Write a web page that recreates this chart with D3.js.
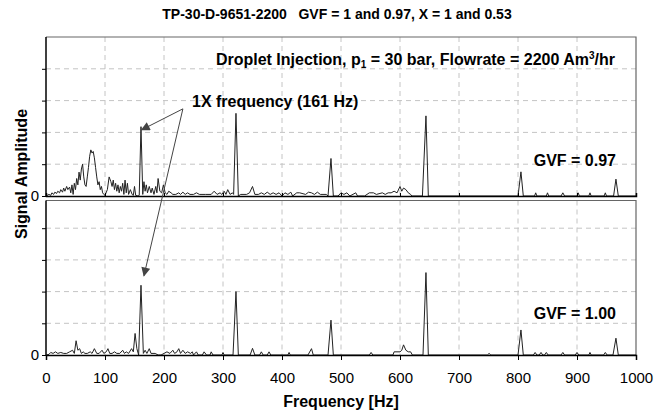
<!DOCTYPE html>
<html>
<head>
<meta charset="utf-8">
<script src="https://cdn.jsdelivr.net/npm/d3@7/dist/d3.min.js"></script>
<style>
body { margin: 0; background: #fff; }
svg { display: block; font-family: "Liberation Sans", Arial, sans-serif; }
</style>
</head>
<body>
<div id="chart"></div>
<script>
// frequency axis ticks (Hz) and amplitude grid steps
var freqTicks = [0, 100, 200, 300, 400, 500, 600, 700, 800, 900, 1000];
var ampTicks = [0, 1, 2, 3, 4, 5];

// GVF = 0.97 spectrum, [Hz, amplitude]
var gvf097 = [
    [0,0],[5,0.05],[8,0.02],[10,0.1],[13,0.05],[15,0.12],[18,0.08],[20,0.15],[23,0.1],[25,0.2],
    [28,0.12],[30,0.25],[32,0.15],[35,0.3],[37,0.2],[40,0.28],[42,0.1],[44,0.35],[46,0.05],[48,0.4],
    [50,0.2],[52,0.55],[54,0.35],[56,0.75],[58,0.5],[60,0.85],[62,1.0],[64,0.6],[66,0.35],[68,0.3],
    [70,0.6],[72,0.9],[74,1.25],[76,1.45],[78,1.35],[80,1.4],[82,1.2],[84,0.9],[86,0.6],[88,0.35],
    [90,0.45],[92,0.2],[94,0.3],[96,0.1],[98,0.05],[100,0.02],[104,0.2],[107,0.6],[110,0.45],[112,0.3],
    [114,0.5],[116,0.2],[118,0.4],[120,0.15],[122,0.35],[124,0.1],[126,0.3],[128,0.15],[130,0.4],[132,0.05],
    [134,0.5],[136,0.1],[138,0.4],[140,0.05],[143,0.2],[146,0.05],[148,0.02],[150,0.3],[152,0.02],[156,0],
    [158,0.02],[161,2.18],[164,0.05],[166,0.45],[168,0.15],[170,0.35],[172,0.1],[175,0.3],[178,0.1],[180,0.25],
    [183,0.05],[186,0.3],[188,0.1],[190,0.55],[193,0.15],[196,0.1],[199,0.35],[202,0.1],[205,0.05],[208,0.15],
    [212,0.1],[215,0.05],[220,0.05],[225,0.1],[228,0.05],[232,0.12],[236,0.05],[240,0.1],[244,0.05],[250,0.05],
    [255,0.1],[260,0.05],[270,0.05],[280,0.05],[285,0.15],[290,0.05],[295,0.1],[298,0.05],[302,0.15],[305,0.05],
    [308,0.2],[312,0.05],[316,0.1],[318,0.05],[322,2.6],[326,0],[330,0.05],[340,0.05],[345,0.1],[350,0.3],
    [354,0.05],[360,0.05],[365,0.1],[370,0.05],[375,0.12],[380,0.05],[385,0.1],[390,0.05],[395,0.1],[400,0],
    [405,0.1],[410,0.05],[415,0.12],[418,0],[425,0.1],[430,0.1],[440,0.05],[445,0.12],[450,0.1],[455,0.05],
    [460,0.12],[465,0.05],[475,0.05],[478,0],[483,1.18],[487,0],[495,0],[500,0.1],[505,0.05],[510,0.1],
    [515,0],[525,0.1],[528,0],[540,0],[548,0.1],[555,0.1],[560,0.05],[570,0.1],[575,0.05],[580,0.1],
    [585,0.1],[590,0.15],[595,0.1],[600,0.3],[603,0.15],[606,0.25],[610,0.2],[614,0.1],[618,0.05],[620,0],
    [638,0],[644,2.52],[648,0],[800,0],[805,0.76],[809,0],[828,0],[830,0.1],[832,0],[848,0],
    [850,0.1],[852,0],[873,0],[876,0.1],[879,0],[900,0],[902,0.1],[904,0],[920,0],[922,0.1],
    [924,0],[946,0],[948,0.1],[950,0],[962,0],[966,0.53],[970,0],[1000,0]
];

// GVF = 1.00 spectrum, [Hz, amplitude]
var gvf100 = [
    [0,0],[5,0.02],[8,0.08],[12,0.05],[16,0.1],[20,0.05],[25,0.08],[30,0.05],[35,0.05],[40,0.1],
    [45,0.15],[48,0.05],[51,0.45],[54,0.15],[57,0.2],[60,0.05],[63,0.1],[66,0.05],[70,0.05],[75,0.1],
    [78,0.05],[82,0.2],[86,0.05],[90,0.05],[95,0.15],[98,0.05],[102,0.1],[105,0.2],[108,0.05],[112,0.05],
    [116,0.1],[120,0.05],[125,0.05],[130,0.15],[133,0.05],[136,0.1],[140,0.05],[145,0.2],[148,0.1],[151,0.68],
    [154,0.2],[157,0],[161,2.2],[165,0.05],[168,0.15],[171,0.05],[175,0.2],[178,0.05],[185,0.05],[190,0],
    [195,0],[200,0.05],[205,0.1],[210,0.05],[215,0.15],[218,0.05],[222,0.1],[225,0.2],[228,0.05],[232,0.15],
    [236,0.05],[240,0.1],[245,0.05],[248,0.1],[250,0],[255,0.1],[258,0],[265,0],[268,0.1],[272,0],
    [278,0],[280,0.1],[283,0],[298,0],[300,0.08],[302,0],[317,0],[322,2.0],[326,0],[346,0],
    [350,0.21],[354,0],[362,0],[365,0.1],[368,0],[375,0],[378,0.1],[381,0],[410,0],[412,0.08],
    [414,0],[444,0],[450,0.2],[453,0],[478,0],[483,1.1],[487,0],[548,0],[551,0.08],[554,0],
    [588,0],[590,0.1],[600,0.1],[603,0.15],[606,0.32],[610,0.15],[614,0.1],[618,0.1],[621,0],[639,0],
    [644,2.6],[648,0],[748,0],[751,0.05],[754,0],[800,0],[805,0.79],[809,0],[826,0],[829,0.08],
    [832,0],[836,0],[839,0.08],[842,0],[845,0],[848,0.08],[851,0],[873,0],[876,0.08],[879,0],
    [897,0],[900,0.08],[903,0],[920,0],[922,0.08],[924,0],[945,0],[948,0.08],[951,0],[961,0],
    [966,0.53],[970,0],[1000,0]
];

var width = 666, height = 417;
var left = 46, right = 636;

var svg = d3.select('#chart').append('svg')
    .attr('width', width)
    .attr('height', height);

svg.append('defs').append('marker')
    .attr('id', 'head')
    .attr('viewBox', '0 0 10 10')
    .attr('refX', 9).attr('refY', 5)
    .attr('markerWidth', 10).attr('markerHeight', 9)
    .attr('markerUnits', 'userSpaceOnUse')
    .attr('orient', 'auto')
    .append('path')
    .attr('d', 'M0,0L10,5L0,10Z')
    .attr('fill', '#444');

var x = d3.scaleLinear().domain([0, 1000]).range([left, right]);

function panel(data, top, bottom, frameTop, label, labelY) {
    var y = d3.scaleLinear().domain([0, 5]).range([bottom, top]);
    var g = svg.append('g');

    // dashed grid
    g.selectAll('.vg').data(freqTicks.slice(1, -1)).enter().append('line')
        .attr('x1', function(d) { return x(d); })
        .attr('x2', function(d) { return x(d); })
        .attr('y1', frameTop).attr('y2', bottom)
        .attr('stroke', '#c4c4c4').attr('stroke-dasharray', '5,4');
    g.selectAll('.hg').data(ampTicks.slice(1, -1)).enter().append('line')
        .attr('x1', left).attr('x2', right)
        .attr('y1', function(d) { return y(d); })
        .attr('y2', function(d) { return y(d); })
        .attr('stroke', '#c4c4c4').attr('stroke-dasharray', '5,4');

    // frame top and right
    g.append('path')
        .attr('d', 'M' + left + ',' + frameTop + 'H' + right + 'V' + bottom)
        .attr('fill', 'none').attr('stroke', '#666').attr('stroke-width', 1.2);

    // left axis with short outward ticks, only 0 labelled
    var yAxis = d3.axisLeft(y).tickValues(ampTicks.slice(0, -1)).tickSize(4).tickPadding(3)
        .tickFormat(function(d) { return d === 0 ? '0' : ''; });
    var ya = g.append('g').attr('transform', 'translate(' + left + ',0)').call(yAxis);
    ya.select('.domain').attr('d', 'M0,' + frameTop + 'V' + bottom).attr('stroke', '#000').attr('stroke-width', 1.5);
    ya.selectAll('text').attr('font-size', 15).attr('fill', '#000');

    var line = d3.line()
        .x(function(d) { return x(d[0]); })
        .y(function(d) { return y(d[1]); });
    g.append('path').datum(data)
        .attr('d', line)
        .attr('fill', 'none')
        .attr('stroke', '#222')
        .attr('stroke-width', 1);

    g.append('text')
        .attr('x', 616).attr('y', labelY)
        .attr('text-anchor', 'end')
        .attr('font-size', 16).attr('font-weight', 'bold')
        .text(label);

    return y;
}

var yTop = panel(gvf097, 37, 196, 37, 'GVF = 0.97', 166);
var yBot = panel(gvf100, 196.5, 355, 200.5, 'GVF = 1.00', 319);

// top panel baseline with small inward ticks
var ta = svg.append('g').attr('transform', 'translate(0,196)')
    .call(d3.axisBottom(x).tickValues(freqTicks).tickSize(-3).tickFormat(''));
ta.select('.domain').attr('stroke', '#000').attr('stroke-width', 1.5);

// bottom frequency axis
var ba = svg.append('g').attr('transform', 'translate(0,355)')
    .call(d3.axisBottom(x).tickValues(freqTicks).tickSize(5).tickPadding(12)
        .tickFormat(d3.format('d')));
ba.select('.domain').attr('stroke', '#000').attr('stroke-width', 1.5);
ba.selectAll('text').attr('font-size', 15).attr('fill', '#000')
    .attr('font-family', '"Liberation Sans", Arial, sans-serif');

// titles
svg.append('text')
    .attr('x', 337).attr('y', 19)
    .attr('text-anchor', 'middle')
    .attr('font-size', 14).attr('font-weight', 'bold')
    .style('white-space', 'pre')
    .text('TP-30-D-9651-2200   GVF = 1 and 0.97, X = 1 and 0.53');

svg.append('text')
    .attr('x', 341).attr('y', 407)
    .attr('text-anchor', 'middle')
    .attr('font-size', 16).attr('font-weight', 'bold')
    .text('Frequency [Hz]');

svg.append('text')
    .attr('transform', 'translate(27,174) rotate(-90)')
    .attr('text-anchor', 'middle')
    .attr('font-size', 16).attr('font-weight', 'bold')
    .text('Signal Amplitude');

// annotation: test conditions
var cond = svg.append('text')
    .attr('x', 615).attr('y', 65)
    .attr('text-anchor', 'end')
    .attr('font-size', 16).attr('font-weight', 'bold');
cond.append('tspan').text('Droplet Injection, p');
cond.append('tspan').attr('font-size', 10).attr('dy', 3).text('1');
cond.append('tspan').attr('dy', -3).text(' = 30 bar, Flowrate = 2200 Am');
cond.append('tspan').attr('font-size', 10).attr('dy', -6).text('3');
cond.append('tspan').attr('dy', 6).text('/hr');

// 1X frequency arrows
var ax = x(232), ay = yTop(2.74);
svg.append('line')
    .attr('x1', ax).attr('y1', ay)
    .attr('x2', x(162)).attr('y2', yTop(2.08))
    .attr('stroke', '#444').attr('marker-end', 'url(#head)');
svg.append('line')
    .attr('x1', ax).attr('y1', ay)
    .attr('x2', x(166)).attr('y2', yBot(2.5))
    .attr('stroke', '#444').attr('marker-end', 'url(#head)');
svg.append('text')
    .attr('x', 192).attr('y', 107)
    .attr('font-size', 16).attr('font-weight', 'bold')
    .text('1X frequency (161 Hz)');
</script>
</body>
</html>
